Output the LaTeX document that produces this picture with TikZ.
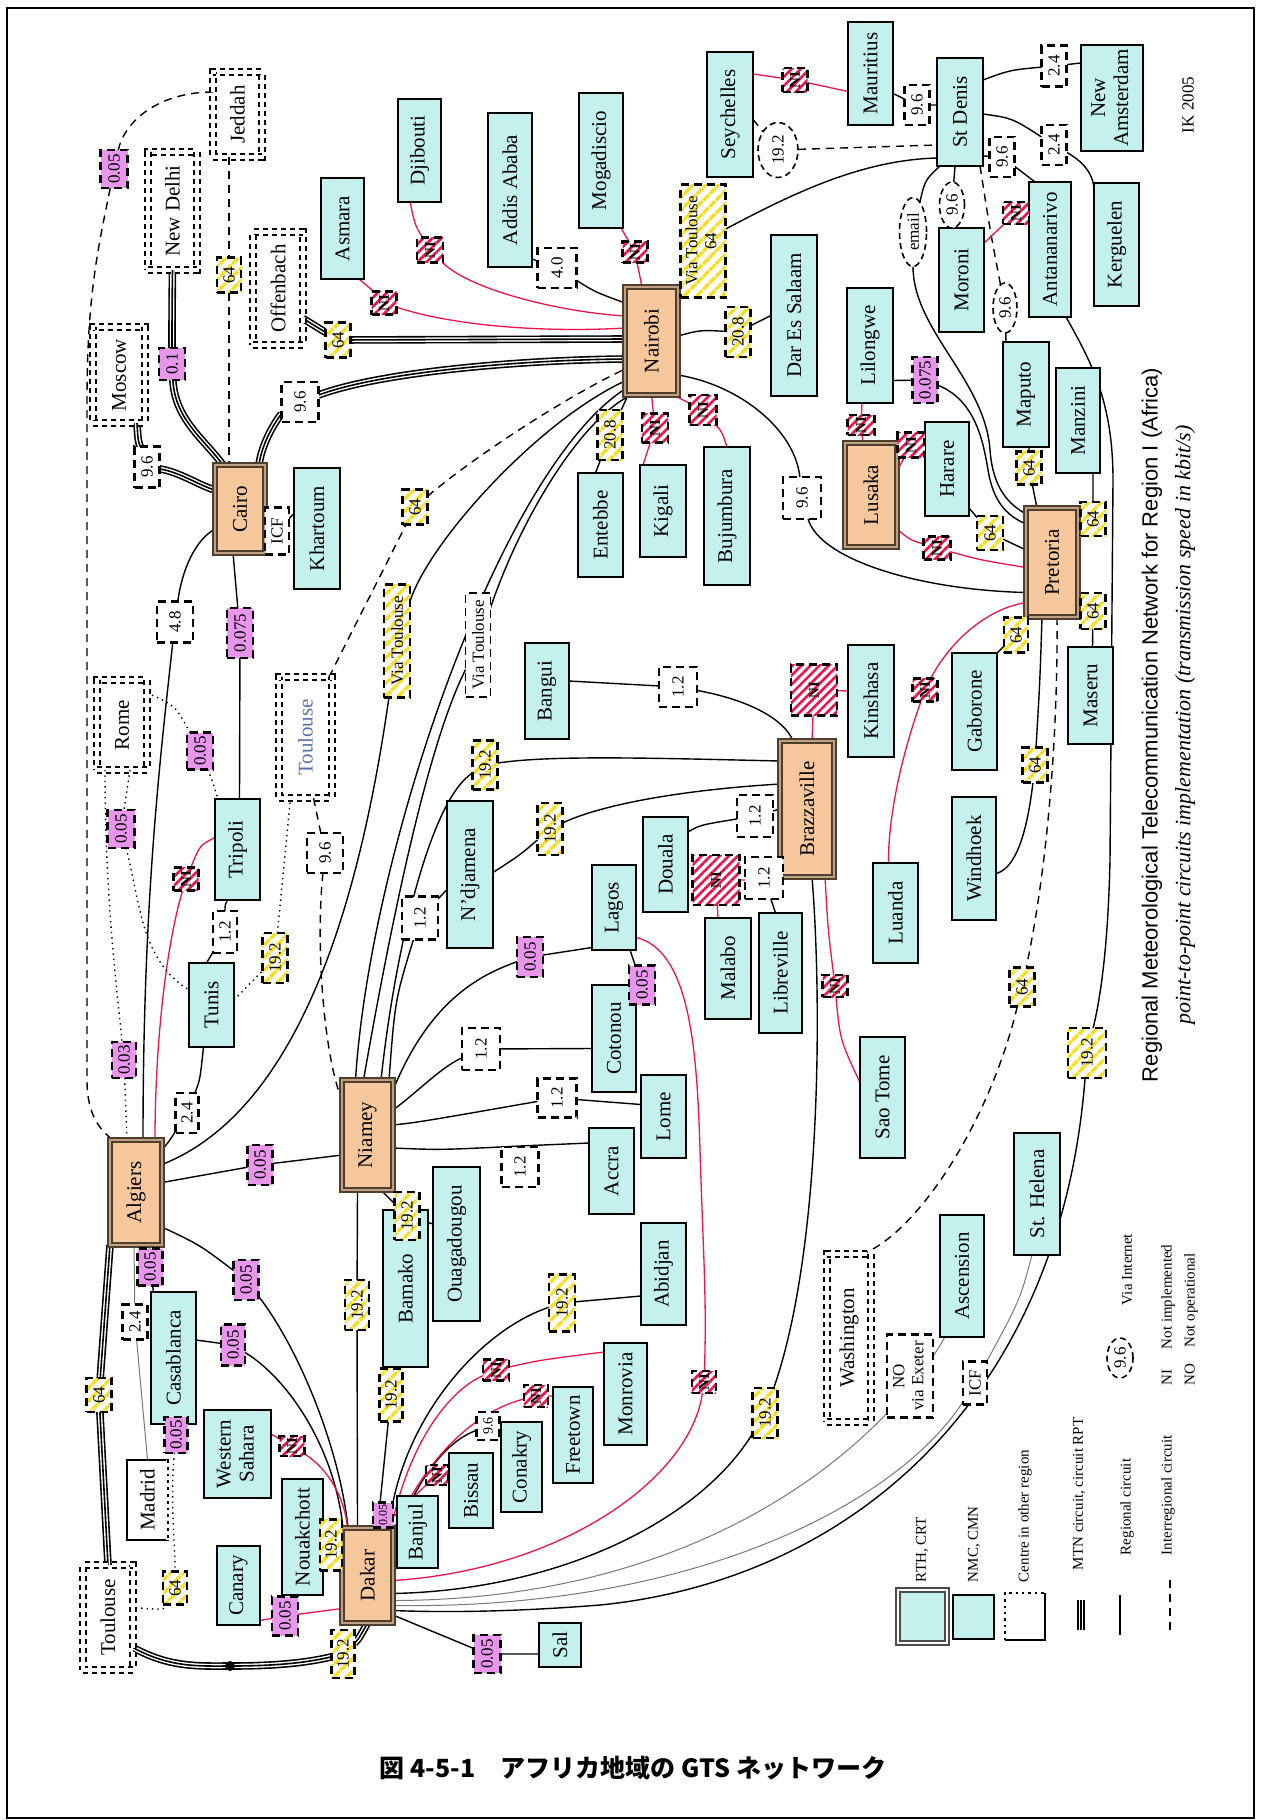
\documentclass[tikz,border=0pt]{standalone}
\usepackage{fontspec}
\usepackage{graphicx}
\setmainfont{Liberation Serif}
\newfontfamily\sansf{Liberation Sans}
\newfontfamily\cjkf{Noto Sans CJK JP}
\usetikzlibrary{patterns,patterns.meta,calc,shapes.geometric}
\pgfdeclarelayer{bg}
\pgfsetlayers{bg,main}
\definecolor{cybox}{RGB}{196,240,238}
\definecolor{rthfill}{RGB}{246,198,156}
\definecolor{rthdraw}{RGB}{80,62,45}
\definecolor{rthmid}{RGB}{190,160,130}
\definecolor{magbox}{RGB}{232,150,236}
\definecolor{hyel}{RGB}{248,222,30}
\definecolor{rline}{RGB}{235,20,75}
\definecolor{glin}{RGB}{120,120,120}
\definecolor{toultxt}{RGB}{90,115,170}
\newcommand\Bx[7]{\node[#2,minimum width={(#4-#3)*0.5pt},minimum height={(#6-#5)*0.5pt}] (#1) at ({(#3+#4)/2},{(#5+#6)/2}) {\rotatebox{90}{#7}};}
\newcommand\Lb[7]{\node[#2,minimum width={#5*0.5pt},minimum height={#6*0.5pt}] (#1) at (#3,#4) {\rotatebox{90}{#7}};}
\newcommand\two[2]{\begin{tabular}{@{}c@{}}#1\\#2\end{tabular}}
\tikzset{
 every node/.style={inner sep=0pt,outer sep=0pt},
 nmc/.style={draw,line width=1.4pt,fill=cybox,font=\fontsize{10.5}{11.5}\selectfont},
 nmct/.style={nmc,line width=0.7pt},
 rth/.style={draw=rthdraw,line width=0.9pt,double=rthmid,double distance=1.2pt,fill=rthfill,font=\fontsize{10.5}{11.5}\selectfont},
 oth/.style={draw,line width=0.9pt,dash pattern=on 2.5pt off 2pt,double=white,double distance=2.4pt,fill=white,font=\fontsize{10.5}{11.5}\selectfont},
 lab/.style={draw,line width=1.2pt,dash pattern=on 4pt off 2.5pt,font=\fontsize{8.5}{9.5}\selectfont},
 wl/.style={lab,fill=white},
 yl/.style={lab,preaction={fill=white},pattern={Lines[angle=45,distance=4.5pt,line width=1.6pt]},pattern color=hyel},
 ml/.style={lab,fill=magbox},
 nl/.style={lab,preaction={fill=white},pattern={Lines[angle=45,distance=3.2pt,line width=1.3pt]},pattern color=rline,font=\fontsize{7.5}{8}\selectfont\bfseries},
 el/.style={draw,ellipse,line width=0.8pt,dash pattern=on 3pt off 2pt,fill=white,font=\fontsize{8.5}{9.5}\selectfont},
 reg/.style={line width=0.7pt},
 redc/.style={draw=rline,line width=0.65pt},
 inter/.style={line width=0.7pt,dash pattern=on 4pt off 3pt},
 dotc/.style={line width=0.7pt,dotted},
 grayc/.style={draw=glin,line width=0.5pt},
 mtn/.style={line width=3.8pt,postaction={draw=white,line width=2.2pt},postaction={draw=black,line width=0.8pt}},
 legt/.style={font=\fontsize{7.5}{8.5}\selectfont},
}
\begin{document}
\begin{tikzpicture}[x=0.5pt,y=-0.5pt]
\useasboundingbox (0,0) rectangle (1261,1820);
% ---------- centres (NMC) ----------
\Bx{asmara}{nmc}{321}{364}{178}{279}{Asmara}
\Bx{djibouti}{nmc}{398}{441}{99}{202}{Djibouti}
\Bx{addis}{nmct}{488}{532}{113}{267}{Addis Ababa}
\Bx{mogad}{nmc}{579}{623}{93}{228}{Mogadiscio}
\Bx{seych}{nmc}{707}{753}{52}{177}{Seychelles}
\Bx{mauri}{nmc}{848}{893}{22}{125}{Mauritius}
\Bx{stdenis}{nmc}{937}{983}{58}{166}{St Denis}
\Bx{newam}{nmc}{1081}{1143}{45}{151}{\two{New}{Amsterdam}}
\Bx{kergu}{nmc}{1094}{1139}{183}{306}{Kerguelen}
\Bx{antan}{nmc}{1029}{1071}{182}{317}{Antananarivo}
\Bx{moroni}{nmc}{939}{984}{228}{332}{Moroni}
\Bx{dar}{nmc}{771}{817}{235}{396}{Dar Es Salaam}
\Bx{lilong}{nmc}{847}{893}{288}{403}{Lilongwe}
\Bx{maputo}{nmc}{1003}{1049}{342}{447}{Maputo}
\Bx{manzini}{nmc}{1056}{1100}{368}{473}{Manzini}
\Bx{harare}{nmc}{925}{969}{422}{516}{Harare}
\Bx{entebbe}{nmc}{578}{623}{473}{577}{Entebbe}
\Bx{kigali}{nmc}{640}{686}{465}{557}{Kigali}
\Bx{bujum}{nmc}{704}{750}{447}{585}{Bujumbura}
\Bx{khart}{nmc}{294}{340}{468}{589}{Khartoum}
\Bx{tripoli}{nmc}{215}{260}{799}{900}{Tripoli}
\Bx{bangui}{nmc}{525}{569}{643}{739}{Bangui}
\Bx{kinsh}{nmc}{848}{894}{645}{757}{Kinshasa}
\Bx{gabor}{nmc}{952}{997}{653}{770}{Gaborone}
\Bx{maseru}{nmc}{1068}{1113}{647}{744}{Maseru}
\Bx{windh}{nmc}{952}{996}{797}{920}{Windhoek}
\Bx{luanda}{nmc}{873}{918}{863}{963}{Luanda}
\Bx{ndj}{nmc}{447}{493}{801}{948}{N'djamena}
\Bx{lagos}{nmc}{592}{636}{865}{950}{Lagos}
\Bx{douala}{nmc}{643}{688}{817}{912}{Douala}
\Bx{malabo}{nmc}{705}{751}{918}{1019}{Malabo}
\Bx{librev}{nmc}{759}{802}{913}{1033}{Libreville}
\Bx{tunis}{nmc}{189}{234}{963}{1047}{Tunis}
\Bx{cotonou}{nmc}{592}{636}{985}{1092}{Cotonou}
\Bx{lome}{nmc}{641}{686}{1075}{1158}{Lome}
\Bx{accra}{nmc}{589}{634}{1128}{1214}{Accra}
\Bx{saotome}{nmc}{860}{905}{1037}{1158}{Sao Tome}
\Bx{ouaga}{nmc}{433}{480}{1167}{1321}{Ouagadougou}
\Bx{abidjan}{nmc}{641}{686}{1223}{1325}{Abidjan}
\Bx{sthel}{nmc}{1014}{1060}{1133}{1255}{St. Helena}
\Bx{ascen}{nmc}{940}{984}{1215}{1337}{Ascension}
\Bx{bamako}{nmc}{383}{428}{1210}{1367}{Bamako}
\Bx{casab}{nmc}{151}{196}{1292}{1424}{Casablanca}
\Bx{wsahara}{nmc}{204}{271}{1410}{1498}{\two{Western}{Sahara}}
\Bx{nouak}{nmc}{282}{323}{1479}{1595}{Nouakchott}
\Bx{canary}{nmc}{217}{260}{1546}{1625}{Canary}
\Bx{banjul}{nmc}{397}{438}{1496}{1568}{Banjul}
\Bx{bissau}{nmc}{449}{493}{1453}{1528}{Bissau}
\Bx{conakry}{nmc}{501}{542}{1422}{1512}{Conakry}
\Bx{freet}{nmc}{553}{593}{1387}{1483}{Freetown}
\Bx{monrov}{nmc}{604}{647}{1343}{1445}{Monrovia}
\Bx{sal}{nmct}{539}{581}{1623}{1667}{Sal}
\Bx{madrid}{nmc,fill=white}{127}{168}{1460}{1540}{Madrid}
\draw[white,line width=1.6pt] (madrid.north east) -- (madrid.south east);
\draw[dotted,line width=1.4pt] (madrid.north east) -- (madrid.south east);
% ---------- RTH ----------
\Bx{nairobi}{rth}{625}{678}{287}{395}{Nairobi}
\Bx{cairo}{rth}{215}{265}{465}{553}{Cairo}
\Bx{algiers}{rth}{110}{162}{1140}{1245}{Algiers}
\Bx{niamey}{rth}{342}{393}{1080}{1190}{Niamey}
\Bx{brazza}{rth}{780}{834}{741}{877}{Brazzaville}
\Bx{dakar}{rth}{342}{393}{1528}{1623}{Dakar}
\Bx{pretoria}{rth}{1026}{1078}{508}{617}{Pretoria}
\Bx{lusaka}{rth}{845}{897}{443}{547}{Lusaka}
% ---------- other regions ----------
\Bx{jeddah}{oth}{213}{262}{72}{157}{Jeddah}
\Bx{newdelhi}{oth}{148}{197}{152}{270}{New Delhi}
\Bx{moscow}{oth}{93}{145}{327}{423}{Moscow}
\Bx{offen}{oth}{253}{303}{232}{345}{Offenbach}
\Bx{rome}{oth}{97}{147}{680}{770}{Rome}
\Bx{toulm}{oth}{279}{332}{677}{798}{\textcolor{toultxt}{Toulouse}}
\Bx{toulb}{oth}{83}{133}{1565}{1670}{Toulouse}
\Bx{washing}{oth}{827}{871}{1254}{1422}{Washington}
% ---------- circuit labels ----------
\Lb{lJC}{yl}{229}{275}{24}{35}{64}
\Lb{lON}{yl}{338}{340}{25}{35}{64}
\Lb{lJA}{ml}{114}{169}{27}{38}{0.05}
\Lb{lDC}{ml}{172}{364}{26}{32}{0.1}
\Lb{lCN}{wl}{300}{402}{37}{40}{9.6}
\Lb{lMC}{wl}{147}{467}{25}{41}{9.6}
\Lb{lAsN}{nl}{384}{303}{25}{23}{NI}
\Lb{lDjN}{nl}{430}{250}{26}{25}{NI}
\Lb{lAdN}{wl}{557}{268}{39}{40}{4.0}
\Lb{lMoN}{nl}{635}{252}{25}{21}{NI}
\Lb{lNS}{yl}{703}{241}{45}{113}{\two{Via Toulouse}{64}}
\Lb{lSeM}{nl}{795}{80}{25}{24}{NI}
\Lb{lSeS}{el}{778}{150}{40}{55}{19.2}
\Lb{lND}{yl}{738}{332}{25}{50}{20.8}
\Lb{lMS}{wl}{917}{105}{25}{40}{9.6}
\Lb{lSNA}{wl}{1054}{66}{25}{41}{2.4}
\Lb{lSK}{wl}{1054}{145}{25}{40}{2.4}
\Lb{lSA}{wl}{1002}{157}{25}{40}{9.6}
\Lb{lemail}{el}{913}{232}{27}{69}{email}
\Lb{lSMo}{el}{952}{205}{25}{46}{9.6}
\Lb{lSMa}{el}{1005}{308}{24}{50}{9.6}
\Lb{lMoA}{nl}{1016}{213}{26}{22}{NI}
\Lb{lLP}{ml}{925}{380}{25}{46}{0.075}
\Lb{lLL}{nl}{861}{425}{27}{20}{NI}
\Lb{lLH}{nl}{911}{445}{27}{25}{NI}
\Lb{lHP}{yl}{990}{533}{26}{34}{64}
\Lb{lLuP}{nl}{937}{548}{27}{23}{NI}
\Lb{lMaP}{yl}{1029}{468}{25}{33}{64}
\Lb{lMzP}{yl}{1093}{519}{25}{34}{64}
\Lb{lMsP}{yl}{1093}{611}{25}{36}{64}
\Lb{lGP}{yl}{1016}{635}{24}{35}{64}
\Lb{lLdP}{nl}{925}{690}{25}{23}{NI}
\Lb{lWP}{yl}{1035}{765}{25}{35}{64}
\Lb{lPW}{yl}{1022}{987}{25}{39}{64}
\Lb{lAD}{yl}{1087}{1053}{38}{50}{19.2}
\Lb{lNP}{wl}{802}{498}{38}{42}{9.6}
\Lb{lNE}{yl}{610}{435}{25}{50}{20.8}
\Lb{lNK}{nl}{655}{428}{26}{29}{NI}
\Lb{lNB}{nl}{703}{410}{27}{30}{NI}
\Lb{lVTw}{wl,line width=0.7pt}{478}{645}{25}{104}{Via Toulouse}
\Lb{lVTy}{yl}{397}{641}{26}{113}{Via Toulouse}
\Lb{lTN}{yl}{415}{507}{25}{35}{64}
\Lb{lCA}{wl}{175}{622}{36}{41}{4.8}
\Lb{lCK}{wl}{277}{531}{24}{47}{ICF}
\Lb{lCT}{ml}{240}{633}{26}{50}{0.075}
\Lb{lRT}{ml}{200}{751}{26}{37}{0.05}
\Lb{lRTu}{ml}{121}{829}{27}{38}{0.05}
\Lb{lTNi}{wl}{325}{853}{36}{40}{9.6}
\Lb{lBB}{wl}{678}{687}{38}{40}{1.2}
\Lb{lBK}{nl}{814}{690}{46}{51}{NI}
\Lb{lBN}{yl}{485}{765}{25}{49}{19.2}
\Lb{lBNd}{yl}{550}{829}{25}{52}{19.2}
\Lb{lBD}{wl}{755}{816}{36}{42}{1.2}
\Lb{lBM}{nl}{716}{880}{47}{50}{NI}
\Lb{lBL}{wl}{764}{878}{38}{42}{1.2}
\Lb{lBS}{nl}{835}{986}{25}{22}{NI}
\Lb{lTA}{nl}{186}{879}{25}{23}{NI}
\Lb{lTT}{wl}{225}{932}{24}{42}{1.2}
\Lb{lTuT}{yl}{275}{958}{25}{50}{19.2}
\Lb{lAT}{wl}{187}{1113}{23}{40}{2.4}
\Lb{lRA}{ml}{124}{1060}{24}{36}{0.03}
\Lb{lAN}{ml}{260}{1165}{25}{40}{0.05}
\Lb{lNNd}{wl}{420}{918}{36}{43}{1.2}
\Lb{lNL}{ml}{530}{957}{26}{40}{0.05}
\Lb{lLC}{ml}{642}{985}{26}{39}{0.05}
\Lb{lNC}{wl}{481}{1049}{38}{42}{1.2}
\Lb{lNLo}{wl}{557}{1098}{39}{39}{1.2}
\Lb{lNA}{wl}{520}{1167}{37}{40}{1.2}
\Lb{lNO}{yl}{407}{1216}{25}{48}{19.2}
\Lb{lAC}{ml}{150}{1267}{25}{37}{0.05}
\Lb{lAD2}{ml}{246}{1280}{25}{40}{0.05}
\Lb{lND2}{yl}{357}{1305}{24}{50}{19.2}
\Lb{lCD}{ml}{233}{1345}{24}{41}{0.05}
\Lb{lAM}{wl}{135}{1322}{25}{35}{2.4}
\Lb{lTA2}{yl}{99}{1395}{25}{34}{64}
\Lb{lCT2}{ml}{176}{1435}{23}{36}{0.05}
\Lb{lCT3}{yl}{175}{1588}{24}{33}{64}
\Lb{lWD}{nl}{292}{1446}{25}{20}{NI}
\Lb{lNoD}{yl}{331}{1545}{22}{51}{19.2}
\Lb{lCaD}{ml}{285}{1616}{26}{39}{0.05}
\Lb{lTD}{yl}{343}{1654}{23}{48}{19.2}
\Lb{lBaD}{yl}{391}{1395}{23}{53}{19.2}
\Lb{lDB}{ml,font=\fontsize{6}{7}\selectfont}{383}{1515}{20}{25}{0.05}
\Lb{lDBi}{nl}{437}{1475}{22}{20}{NI}
\Lb{lDCo}{wl,font=\fontsize{7}{8}\selectfont}{488}{1426}{23}{28}{9.6}
\Lb{lDF}{nl}{536}{1396}{24}{22}{NI}
\Lb{lDM}{nl}{496}{1370}{26}{21}{NI}
\Lb{lDA}{yl}{562}{1303}{26}{57}{19.2}
\Lb{lDL}{nl}{704}{1382}{24}{22}{NI}
\Lb{lDBr}{yl}{765}{1413}{25}{50}{19.2}
\Lb{lDS}{ml}{487}{1654}{27}{38}{0.05}
\Lb{lNOE}{wl}{910}{1376}{46}{83}{\two{NO}{via Exeter}}
\Lb{lICF}{wl}{975}{1383}{24}{43}{ICF}
% ---------- connectors ----------
\begin{pgfonlayer}{bg}
\fill[white] (0,0) rectangle (1261,1820);
% Jeddah
\draw[inter] (jeddah.south -| lJC) -- (lJC) -- (cairo.north -| lJC);
\draw[inter] ($(jeddah.north west)+(0,20)$) .. controls (160,92) and (125,120) .. (lJA);
\draw[inter] (lJA) .. controls (100,240) and (87,290) .. (87,400) -- (87,1080) .. controls (87,1115) and (100,1130) .. ($(algiers.north west)+(3,0)$);
% MTN
\draw[mtn] (newdelhi.south) .. controls (172,310) and (172,330) .. (lDC);
\draw[mtn] (lDC) .. controls (175,420) and (205,440) .. ($(cairo.north west)+(8,0)$);
\draw[mtn] ($(moscow.south east)+(-8,0)$) .. controls (138,440) .. (lMC);
\draw[mtn] (lMC) .. controls (180,472) and (200,486) .. ($(cairo.north west)+(0,25)$);
\draw[mtn] ($(cairo.north east)+(-6,0)$) .. controls (262,440) and (280,415) .. (lCN);
\draw[mtn] (lCN) .. controls (380,372) and (520,360) .. ($(nairobi.north west)+(0,72)$);
\draw[mtn] ($(offen.east)+(0,30)$) -- (lON) -- ($(nairobi.north west)+(0,52)$);
\draw[mtn] ($(toulb.north)+(0,0)$) -- (lTA2) -- ($(algiers.south west)+(0,0)$);
\draw[mtn] ($(toulb.east)+(0,30)$) .. controls (170,1668) and (200,1666) .. (230,1666) .. controls (280,1666) and (310,1662) .. (lTD);
\draw[mtn] (lTD) .. controls (358,1640) .. ($(dakar.south)+(0,0)$);
\fill (230,1666) circle[radius=2.5pt];
% Nairobi
\draw[redc] ($(asmara.south east)+(-5,0)$) .. controls (372,290) .. (lAsN);
\draw[redc] (lAsN) .. controls (450,325) and (540,333) .. ($(nairobi.north west)+(0,41)$);
\draw[redc] ($(djibouti.south west)+(12,0)$) .. controls (415,225) .. (lDjN);
\draw[redc] (lDjN) .. controls (470,290) and (560,312) .. ($(nairobi.north west)+(0,29)$);
\draw[reg] ($(addis.south east)+(0,-8)$) -- (lAdN) .. controls (595,292) .. ($(nairobi.north west)+(0,16)$);
\draw[redc] ($(mogad.south east)+(-2,0)$) -- (lMoN) -- ($(nairobi.north west)+(17,0)$);
\draw[reg] (nairobi.north east) -- (lNS);
\draw[reg] (lNS) .. controls (790,195) and (860,160) .. ($(stdenis.west)+(0,46)$);
\draw[reg] ($(nairobi.east)+(0,-5)$) .. controls (700,330) .. (lND) -- ($(dar.west)+(0,0)$);
\draw[reg] ($(nairobi.south west)+(3,0)$) -- (lNE) -- ($(entebbe.north)+(-5,0)$);
\draw[redc] (nairobi.south) -- (lNK) -- ($(kigali.north)+(-20,0)$);
\draw[redc] ($(nairobi.south east)+(-5,0)$) -- (lNB) .. controls (722,432) .. (bujum.north);
\draw[reg] ($(nairobi.south east)+(0,-20)$) .. controls (740,385) and (795,430) .. (lNP);
\draw[reg] (lNP) .. controls (820,560) and (920,590) .. ($(pretoria.west)+(0,30)$);
\draw[reg] ($(niamey.north)+(-12,0)$) .. controls (370,850) and (500,470) .. ($(nairobi.south west)+(0,-6)$);
\draw[reg] ($(niamey.north)+(-4,0)$) .. controls (395,900) and (430,740) .. (lVTw);
\draw[reg] (lVTw) .. controls (520,520) and (580,420) .. ($(nairobi.south west)+(6,0)$);
\draw[inter] ($(toulm.north east)+(-3,0)$) -- (lTN);
\draw[inter] (lTN) .. controls (470,460) and (560,400) .. ($(nairobi.south west)+(0,-26)$);
\draw[reg] ($(algiers.east)+(0,-28)$) .. controls (300,1110) and (360,900) .. (lVTy);
\draw[reg] (lVTy) .. controls (430,540) and (540,420) .. ($(nairobi.south west)+(0,-14)$);
% Indian ocean
\draw[redc] ($(seych.north east)+(0,22)$) -- (lSeM) -- ($(mauri.west)+(0,18)$);
\draw[inter] ($(seych.east)+(0,5)$) -- (lSeS) -- ($(stdenis.west)+(0,33)$);
\draw[reg] ($(mauri.east)+(0,20)$) -- (lMS) -- ($(stdenis.west)+(0,-7)$);
\draw[reg] ($(stdenis.north east)+(0,22)$) .. controls (1010,70) .. (lSNA) -- ($(newam.west)+(0,-35)$);
\draw[reg] ($(stdenis.east)+(0,2)$) .. controls (1012,118) .. (lSK);
\draw[reg] (lSK) .. controls (1080,160) and (1092,170) .. ($(kergu.north west)+(0,5)$);
\draw[reg] ($(stdenis.south east)+(0,-10)$) -- (lSA) .. controls (1022,172) .. ($(antan.north)+(-15,0)$);
\draw[reg] ($(stdenis.south west)+(3,0)$) .. controls (925,180) .. (lemail);
\draw[reg] (lemail) .. controls (913,330) and (985,380) .. (990,450) .. controls (993,490) and (1010,505) .. ($(pretoria.north west)+(0,6)$);
\draw[reg] ($(stdenis.south)+(-5,0)$) -- (lSMo) -- ($(moroni.north)+(-8,0)$);
\draw[inter] ($(stdenis.south east)+(-3,0)$) .. controls (990,230) .. (lSMa) -- ($(maputo.north)+(-20,0)$);
\draw[redc] ($(moroni.north east)+(0,15)$) -- (lMoA) -- ($(antan.west)+(0,-40)$);
% southern Africa
\draw[reg] ($(lilong.east)+(0,35)$) -- (lLP);
\draw[reg] (lLP) .. controls (975,400) and (983,440) .. (988,470) .. controls (993,500) and (1005,515) .. ($(pretoria.north west)+(0,16)$);
\draw[redc] ($(lilong.south)+(-8,0)$) -- (lLL) -- ($(lusaka.north)+(-8,0)$);
\draw[redc] ($(lusaka.north east)+(0,28)$) -- (lLH) -- ($(harare.west)+(0,-25)$);
\draw[reg] ($(harare.south east)+(0,-8)$) -- (lHP) -- ($(pretoria.north west)+(0,42)$);
\draw[redc] ($(lusaka.south east)+(0,-18)$) .. controls (910,540) .. (lLuP) .. controls (980,560) .. ($(pretoria.west)+(0,5)$);
\draw[reg] ($(maputo.south)+(3,0)$) -- (lMaP) -- ($(pretoria.north)+(-15,0)$);
\draw[reg] ($(manzini.south)+(15,0)$) -- (lMzP) -- ($(pretoria.east)+(0,-43)$);
\draw[reg] ($(pretoria.east)+(0,40)$) -- (lMsP) -- ($(maseru.north)+(2,0)$);
\draw[reg] (pretoria.south west) -- (lGP) .. controls (1000,650) .. (gabor.north east);
\draw[redc] ($(pretoria.west)+(0,40)$) .. controls (980,610) and (945,650) .. (lLdP) .. controls (900,760) and (888,820) .. ($(luanda.north)+(-7,0)$);
\draw[reg] ($(pretoria.south)+(-10,0)$) .. controls (1040,680) .. (lWP) .. controls (1025,850) and (1010,870) .. ($(windh.east)+(0,15)$);
\draw[inter] ($(pretoria.south)+(5,0)$) .. controls (1058,750) and (1045,880) .. (lPW);
\draw[inter] (lPW) .. controls (990,1120) and (920,1230) .. ($(washing.north east)+(-8,0)$);
\draw[reg] ($(antan.south east)+(-5,0)$) .. controls (1090,360) and (1113,400) .. (1113,480) -- (1110,860) .. controls (1108,950) and (1100,1000) .. (lAD);
\draw[reg] (lAD) .. controls (1060,1400) and (850,1580) .. (600,1605) .. controls (500,1613) and (430,1612) .. ($(dakar.east)+(0,35)$);
% Brazzaville
\draw[reg] ($(bangui.east)+(0,-10)$) -- (lBB);
\draw[reg] (lBB) .. controls (750,700) and (785,720) .. ($(brazza.north west)+(13,0)$);
\draw[redc] ($(brazza.north)+(5,0)$) -- (lBK) -- ($(kinsh.west)+(0,-10)$);
\draw[reg] ($(brazza.north west)+(0,20)$) .. controls (650,758) and (550,755) .. (lBN);
\draw[reg] (lBN) .. controls (430,800) and (395,950) .. ($(niamey.north east)+(-12,0)$);
\draw[reg] ($(brazza.west)+(0,-25)$) .. controls (680,790) and (600,805) .. (lBNd) .. controls (520,855) .. ($(ndj.east)+(0,-2)$);
\draw[reg] (brazza.west) -- (lBD) .. controls (700,825) .. ($(douala.north east)+(0,15)$);
\draw[redc] (brazza.west |- lBM) -- (lBM) -- ($(malabo.north)+(-10,0)$);
\draw[reg] ($(brazza.west)+(0,69)$) -- (lBL) -- ($(librev.north)+(-5,0)$);
\draw[redc] ($(brazza.south)+(18,0)$) .. controls (828,930) .. (lBS) .. controls (840,1040) .. ($(saotome.west)+(0,-15)$);
\draw[reg] ($(brazza.south)+(5,0)$) .. controls (822,1000) and (822,1250) .. (lDBr);
\draw[reg] (lDBr) .. controls (700,1520) and (560,1590) .. ($(dakar.east)+(0,18)$);
% Niamey
\draw[reg] ($(niamey.north east)+(-4,0)$) .. controls (395,1000) .. (lNNd) -- ($(ndj.west)+(0,15)$);
\draw[reg] ($(niamey.east)+(0,-45)$) .. controls (430,1000) and (480,975) .. (lNL) -- ($(lagos.west)+(0,40)$);
\draw[reg] ($(lagos.south)+(16,0)$) -- (lLC) -- (cotonou.north east);
\draw[reg] ($(niamey.east)+(0,-25)$) .. controls (420,1090) and (440,1068) .. (lNC) -- ($(cotonou.west)+(0,10)$);
\draw[reg] ($(niamey.east)+(0,-10)$) .. controls (420,1122) .. (lNLo) -- ($(lome.west)+(0,-12)$);
\draw[reg] ($(niamey.east)+(0,13)$) .. controls (440,1150) .. (520,1146) -- ($(accra.west)+(0,-28)$);
\draw[reg] ($(niamey.south east)+(-12,0)$) -- (lNO) -- ($(ouaga.west)+(0,-20)$);
\draw[reg] ($(niamey.south)+(-10,0)$) -- (lND2) -- ($(dakar.north)+(-10,0)$);
\draw[reg] ($(algiers.east)+(0,-10)$) -- (lAN) -- ($(niamey.west)+(0,20)$);
\draw[inter] ($(toulm.south)+(8,0)$) -- (lTNi);
\draw[inter] (lTNi) .. controls (315,950) and (325,1060) .. ($(niamey.north west)+(0,20)$);
% North Africa
\draw[reg] ($(algiers.north east)+(0,10)$) .. controls (170,1140) .. (lAT) .. controls (200,1080) .. ($(tunis.south)+(-8,0)$);
\draw[redc] ($(tripoli.west)+(0,-12)$) .. controls (200,845) .. (lTA);
\draw[redc] (lTA) .. controls (165,950) and (155,1050) .. ($(algiers.north)+(19,0)$);
\draw[reg] ($(tripoli.south)+(-10,0)$) .. controls (225,905) .. (lTT) -- ($(tunis.north)+(-5,0)$);
\draw[reg] ($(cairo.south)+(-7,0)$) -- (lCT) -- ($(tripoli.north)+(2,0)$);
\draw[reg] ($(cairo.east)+(0,2)$) -- (lCK) -- ($(khart.west)+(0,-15)$);
\draw[reg] ($(cairo.west)+(0,20)$) .. controls (195,540) and (182,570) .. (lCA);
\draw[reg] (lCA) .. controls (160,760) and (143,900) .. ($(algiers.north)+(7,0)$);
\draw[dotc] ($(rome.north east)+(0,13)$) .. controls (175,705) .. (lRT) .. controls (212,780) .. ($(tripoli.north west)+(3,0)$);
\draw[dotc] ($(rome.south)+(8,0)$) -- (lRTu);
\draw[dotc] (lRTu) .. controls (140,900) and (140,960) .. ($(tunis.west)+(0,-15)$);
\draw[dotc] ($(rome.south west)+(8,0)$) .. controls (105,900) and (118,1000) .. (lRA) -- ($(algiers.north)+(-9,0)$);
\draw[dotc] ($(tunis.east)+(0,-5)$) -- (lTuT) -- ($(toulm.south)+(-15,0)$);
% Dakar
\draw[reg] ($(algiers.south east)+(0,-18)$) .. controls (200,1245) .. (lAD2) .. controls (300,1350) and (340,1450) .. ($(dakar.north west)+(6,0)$);
\draw[reg] ($(casab.east)+(0,-18)$) -- (lCD) .. controls (290,1380) and (335,1450) .. ($(dakar.north west)+(1,0)$);
\draw[redc] ($(wsahara.east)+(0,-20)$) -- (lWD) .. controls (330,1470) and (345,1500) .. ($(dakar.north)+(-20,0)$);
\draw[reg] (nouak.east |- lNoD) -- (lNoD) -- (dakar.west |- lNoD);
\draw[redc] ($(canary.east)+(0,35)$) -- (lCaD) -- ($(dakar.west)+(0,33)$);
\draw[grayc] ($(algiers.south)+(-2,0)$) -- (lAM) -- (madrid.north);
\draw[reg] ($(algiers.south)+(14,0)$) -- (lAC) -- ($(casab.north)+(-20,0)$);
\draw[dotc] ($(casab.south)+(3,0)$) -- (lCT2) .. controls (170,1500) and (175,1540) .. (lCT3) .. controls (165,1610) .. ($(toulb.east)+(0,-10)$);
\draw[reg] ($(dakar.north east)+(-8,0)$) -- (lDB) -- (banjul.west |- lDB);
\draw[reg] ($(dakar.north)+(10,0)$) -- (lBaD) -- ($(bamako.south)+(-8,0)$);
\draw[redc] ($(dakar.north east)+(0,8)$) .. controls (410,1500) .. (lDBi) -- (bissau.west |- lDBi);
\draw[reg] ($(dakar.north east)+(0,15)$) .. controls (420,1470) and (450,1440) .. (lDCo) -- (conakry.west |- lDCo);
\draw[redc] ($(dakar.north east)+(0,3)$) .. controls (430,1450) and (480,1410) .. (lDF) -- (freet.west |- lDF);
\draw[redc] ($(dakar.north east)+(-2,0)$) .. controls (410,1440) and (450,1390) .. (lDM) .. controls (540,1360) .. ($(monrov.west)+(0,-42)$);
\draw[reg] ($(dakar.north east)+(-4,0)$) .. controls (400,1420) and (480,1330) .. (lDA) -- ($(abidjan.west)+(0,22)$);
\draw[redc] ($(lagos.east)+(0,30)$) .. controls (690,950) and (697,1050) .. (700,1150) .. controls (703,1250) and (707,1300) .. (lDL);
\draw[redc] (lDL) .. controls (690,1480) and (560,1570) .. ($(dakar.east)+(0,5)$);
\draw[reg] ($(dakar.south east)+(0,-8)$) -- (lDS) -- (sal.west |- lDS);
\draw[grayc] ($(ascen.south west)+(5,0)$) .. controls (880,1450) and (700,1600) .. ($(dakar.east)+(0,25)$);
\draw[grayc] ($(sthel.south)+(-5,0)$) .. controls (1020,1300) .. (lICF);
\draw[grayc] (lICF) .. controls (900,1500) and (700,1610) .. ($(dakar.east)+(0,30)$);
\end{pgfonlayer}
% ---------- legend ----------
\Bx{legR}{rth,fill=cybox,draw=black!70,double=white}{898}{947}{1590}{1643}{}
\node[legt,anchor=south] (legRt) at (922,1582) {\rotatebox{90}{RTH, CRT}};
\Bx{legN}{nmc}{953}{994}{1595}{1639}{}
\node[legt,anchor=south] (legNt) at (974,1582) {\rotatebox{90}{NMC, CMN}};
\node[minimum width=20pt,minimum height=23.5pt] (legO) at (1025,1616.5) {};
\draw[dotted,line width=1.2pt] (legO.south west) -- (legO.north west) -- (legO.north east);
\draw[line width=1.4pt] (legO.north east) -- (legO.south east) -- (legO.south west);
\node[legt,anchor=south] (legOt) at (1025,1582) {\rotatebox{90}{Centre in other region}};
\coordinate (legM1) at (1081,1600);
\coordinate (legM2) at (1081,1630);
\draw[mtn] (legM1) -- (legM2);
\node[legt,anchor=south] (legMt) at (1079,1570) {\rotatebox{90}{MTN circuit, circuit RPT}};
\coordinate (legG1) at (1120,1595);
\coordinate (legG2) at (1120,1635);
\draw[reg] (legG1) -- (legG2);
\node[legt,anchor=south] (legGt) at (1127,1555) {\rotatebox{90}{Regional circuit}};
\coordinate (legI1) at (1170,1580);
\coordinate (legI2) at (1170,1635);
\draw[inter] (legI1) -- (legI2);
\node[legt,anchor=south] (legIt) at (1168,1555) {\rotatebox{90}{Interregional circuit}};
\Lb{legE}{el}{1120}{1358}{26}{40}{9.6}
\node[legt,anchor=south] (legEt) at (1127,1305) {\rotatebox{90}{Via Internet}};
\node[legt,anchor=south] (legNI) at (1168,1385) {\rotatebox{90}{NI\hspace{10pt}Not implemented}};
\node[legt,anchor=south] (legNO) at (1191,1385) {\rotatebox{90}{NO\hspace{8pt}Not operational}};
% ---------- titles ----------
\node[font=\sansf\fontsize{11}{13}\selectfont] (title1) at (1152,725) {\rotatebox{90}{Regional Meteorological Telecommunication Network for Region I (Africa)}};
\node[font=\fontsize{11}{13}\selectfont\itshape] (title2) at (1185,725) {\rotatebox{90}{point-to-point circuits implementation (transmission speed in kbit/s)}};
\node[font=\fontsize{8.5}{9}\selectfont] (ik) at (1188,105) {\rotatebox{90}{IK 2005}};
% ---------- frame and caption ----------
\draw[line width=0.9pt] (7,8) rectangle (1254,1818);
\node[font=\cjkf\bfseries\fontsize{12.5}{14}\selectfont] (cap) at (633,1768) {図 4-5-1\quad アフリカ地域の GTS ネットワーク};
\end{tikzpicture}
\end{document}
